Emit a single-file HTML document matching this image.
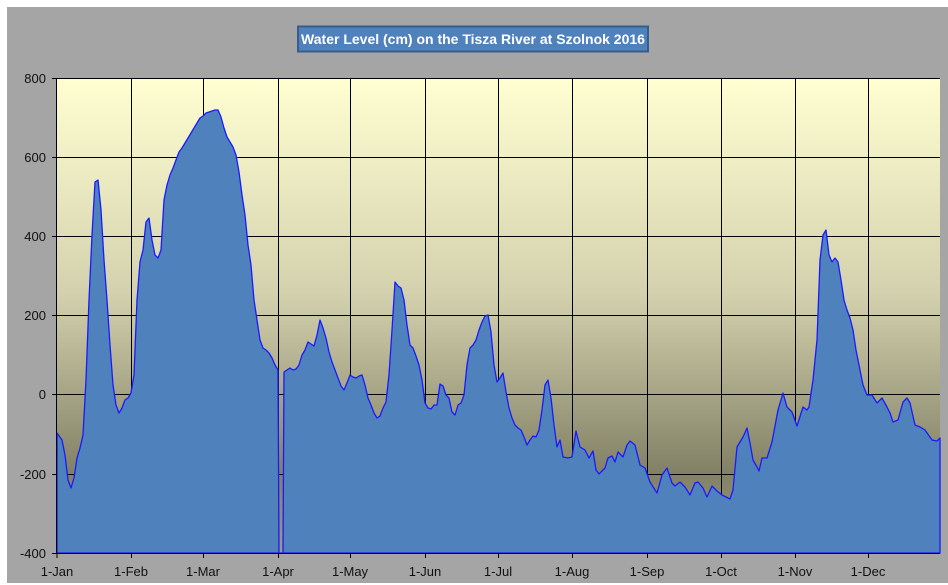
<!DOCTYPE html>
<html><head><meta charset="utf-8"><style>
body{margin:0;background:#fff;}
svg{display:block;font-family:"Liberation Sans",sans-serif;}
</style></head><body>
<svg width="948" height="585" viewBox="0 0 948 585" xmlns="http://www.w3.org/2000/svg">
<defs>
<linearGradient id="bg" x1="0" y1="0" x2="0" y2="1">
<stop offset="0" stop-color="#FFFFD2"/>
<stop offset="0.45" stop-color="#D4D2AE"/>
<stop offset="0.83" stop-color="#828166"/>
<stop offset="1" stop-color="#9C9B80"/>
</linearGradient>
</defs>
<rect x="7" y="7" width="941" height="576" fill="#A5A5A5"/>
<rect x="57" y="78" width="883" height="475" fill="url(#bg)"/>
<g stroke="#000" stroke-width="1">
<line x1="57" y1="78.5" x2="940" y2="78.5"/><line x1="57" y1="157.5" x2="940" y2="157.5"/>
<line x1="57" y1="236.5" x2="940" y2="236.5"/><line x1="57" y1="315.5" x2="940" y2="315.5"/>
<line x1="57" y1="394.5" x2="940" y2="394.5"/><line x1="57" y1="474.5" x2="940" y2="474.5"/>
<line x1="131.5" y1="78" x2="131.5" y2="553"/><line x1="203.5" y1="78" x2="203.5" y2="553"/>
<line x1="278.5" y1="78" x2="278.5" y2="553"/><line x1="350.5" y1="78" x2="350.5" y2="553"/>
<line x1="425.5" y1="78" x2="425.5" y2="553"/><line x1="498.5" y1="78" x2="498.5" y2="553"/>
<line x1="572.5" y1="78" x2="572.5" y2="553"/><line x1="647.5" y1="78" x2="647.5" y2="553"/>
<line x1="721.5" y1="78" x2="721.5" y2="553"/><line x1="795.5" y1="78" x2="795.5" y2="553"/>
<line x1="868.5" y1="78" x2="868.5" y2="553"/>
</g>
<polygon fill="#4F81BD" stroke="#1a1aff" stroke-width="1.3" stroke-linejoin="round" points="57,553 57,433 62,440 65,455 68,480 71,488 74,478 77,458 80,448 83,435 86,380 89,300 92,235 95,182 98,180 101,210 104,260 107,300 110,345 113,385 116,405 119,413 122,408 125,400 128,398 131,393 134,375 137,300 140,262 143,250 146,222 149,218 152,240 155,255 158,258 161,250 164,200 167,185 170,175 173,168 176,160 179,152 182,148 185,143 188,138 191,133 194,128 197,123 200,118 203,116 206,113 209,112 212,111 215,110 218,110 221,117 224,128 227,137 230,142 233,147 236,155 239,172 242,195 245,215 248,245 251,265 254,300 257,320 260,340 263,348 266,350 269,353 272,358 275,365 278,370 279,553 283,553 284,372 287,370 290,368 293,370 296,369 299,365 302,355 305,350 308,342 311,344 314,346 317,335 320,320 323,328 326,338 329,352 332,362 335,370 338,378 341,386 344,390 347,383 350,375 353,377 356,378 359,376 362,375 365,385 368,398 371,405 374,413 377,418 380,416 383,408 386,402 389,375 392,330 395,282 398,286 401,288 404,300 407,325 410,345 413,348 416,356 419,365 422,380 425,403 428,408 431,409 434,405 437,405 440,384 443,386 446,395 449,398 452,412 455,415 458,405 461,403 464,395 467,365 470,348 473,345 476,340 479,330 482,322 485,316 488,315 491,332 494,365 497,382 500,378 503,373 506,392 509,408 512,418 515,425 518,428 521,430 524,437 527,445 530,440 533,436 536,437 539,430 542,410 545,385 548,380 551,398 554,425 557,447 560,440 563,457 568,458 572,457 576,431 580,447 585,450 589,458 593,451 596,470 599,474 605,468 608,458 612,456 615,462 618,452 623,457 627,445 630,441 635,445 640,465 645,468 650,482 657,493 662,475 667,468 672,483 675,486 680,482 685,487 690,495 695,483 698,482 703,488 707,497 712,486 717,491 722,495 730,499 733,490 737,447 740,442 743,437 747,428 750,443 753,460 757,467 759,471 762,458 767,458 772,442 778,410 783,393 787,407 792,412 797,426 803,407 807,410 809,407 813,380 817,340 820,260 823,235 826,230 829,255 832,262 835,258 838,262 841,280 844,300 847,310 850,318 853,330 856,350 860,370 863,385 867,395 872,395 877,403 882,398 887,407 890,413 893,422 898,420 903,402 907,398 910,403 915,425 920,427 925,430 932,440 937,441 940,438 940,553"/>
<g stroke="#000" stroke-width="1">
<line x1="56.5" y1="78" x2="56.5" y2="553"/><line x1="52" y1="553.5" x2="940" y2="553.5"/>
<line x1="52" y1="78.5" x2="57" y2="78.5"/><line x1="52" y1="157.5" x2="57" y2="157.5"/>
<line x1="52" y1="236.5" x2="57" y2="236.5"/><line x1="52" y1="315.5" x2="57" y2="315.5"/>
<line x1="52" y1="394.5" x2="57" y2="394.5"/><line x1="52" y1="474.5" x2="57" y2="474.5"/>
<line x1="131.5" y1="553" x2="131.5" y2="558"/><line x1="203.5" y1="553" x2="203.5" y2="558"/>
<line x1="278.5" y1="553" x2="278.5" y2="558"/><line x1="350.5" y1="553" x2="350.5" y2="558"/>
<line x1="425.5" y1="553" x2="425.5" y2="558"/><line x1="498.5" y1="553" x2="498.5" y2="558"/>
<line x1="572.5" y1="553" x2="572.5" y2="558"/><line x1="647.5" y1="553" x2="647.5" y2="558"/>
<line x1="721.5" y1="553" x2="721.5" y2="558"/><line x1="795.5" y1="553" x2="795.5" y2="558"/>
<line x1="868.5" y1="553" x2="868.5" y2="558"/><line x1="57" y1="553" x2="57" y2="558"/>
</g>
<g font-size="13" fill="#111" text-anchor="end">
<text x="46" y="83">800</text><text x="46" y="162">600</text><text x="46" y="241">400</text>
<text x="46" y="320">200</text><text x="46" y="399">0</text><text x="46" y="479">-200</text><text x="46" y="558">-400</text>
</g>
<g font-size="13" fill="#111" text-anchor="middle">
<text x="57" y="576">1-Jan</text><text x="131" y="576">1-Feb</text><text x="203" y="576">1-Mar</text>
<text x="278" y="576">1-Apr</text><text x="350" y="576">1-May</text><text x="425" y="576">1-Jun</text>
<text x="498" y="576">1-Jul</text><text x="572" y="576">1-Aug</text><text x="647" y="576">1-Sep</text>
<text x="721" y="576">1-Oct</text><text x="795" y="576">1-Nov</text><text x="868" y="576">1-Dec</text>
</g>
<rect x="298" y="26.5" width="350" height="25" fill="#4F81BD" stroke="#385D8A" stroke-width="2"/>
<text x="473" y="44" font-size="14" font-weight="bold" fill="#fff" text-anchor="middle">Water Level (cm) on the Tisza River at Szolnok 2016</text>
</svg>
</body></html>
